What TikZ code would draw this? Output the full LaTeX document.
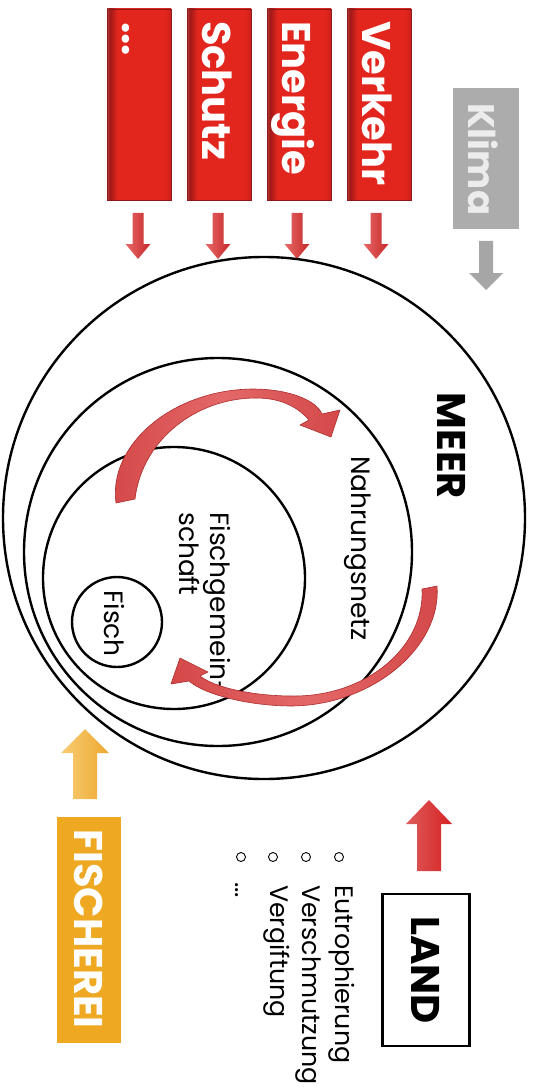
\documentclass[tikz,border=0pt]{standalone}
\usepackage{fontspec}
\setmainfont{Poppins}
\definecolor{rbEdgeL}{RGB}{178,60,56}
\definecolor{rbDark}{RGB}{160,24,24}
\definecolor{rbMid}{RGB}{226,38,30}
\definecolor{rbRight}{RGB}{206,32,28}
\definecolor{rbEdge}{RGB}{140,25,25}
\definecolor{arLight}{RGB}{232,104,104}
\definecolor{arDark}{RGB}{198,40,40}
\definecolor{klimaBox}{RGB}{172,172,172}
\definecolor{klimaText}{RGB}{236,236,236}
\definecolor{klimaArrow}{RGB}{166,166,166}
\definecolor{curveLight}{RGB}{228,104,104}
\definecolor{curveFill}{RGB}{212,72,72}
\definecolor{curveEdge}{RGB}{170,45,45}
\definecolor{fishOrange}{RGB}{238,168,34}
\definecolor{fishArLight}{RGB}{247,205,115}
\definecolor{fishArDark}{RGB}{238,168,48}
\definecolor{landLight}{RGB}{222,92,92}
\definecolor{landDark}{RGB}{214,34,34}
% glossy red bar: narrow dark band on the left, bright red body
\pgfdeclarehorizontalshading{redbar}{100bp}{color(0bp)=(rbEdgeL); color(25bp)=(rbEdgeL); color(27.5bp)=(rbDark); color(33bp)=(rbMid); color(70bp)=(rbMid); color(75bp)=(rbRight); color(100bp)=(rbRight)}
% vertical block arrow: style, x, tail y, head base y, tip y, half shaft, half head
\newcommand\blockarrow[7]{\path[#1] ({#2-#6},#3) -- ({#2+#6},#3) -- ({#2+#6},#4) -- ({#2+#7},#4) -- (#2,#5) -- ({#2-#7},#4) -- ({#2-#6},#4) -- cycle;}
\begin{document}
\begin{tikzpicture}[x=1pt,y=-1pt,
  redbox/.style={shading=redbar, draw=rbEdge, line width=0.7pt, minimum width=64pt, minimum height=191pt, inner sep=0pt, outer sep=0pt},
  boxtxt/.style={font=\fontsize{40}{40}\selectfont\bfseries, text=white, rotate=-90, inner sep=0pt},
  reg/.style={font=\fontsize{26.5}{31}\selectfont, text=black, rotate=-90, inner sep=0pt},
  listtxt/.style={reg, font=\fontsize{25.3}{30}\selectfont},
  ring/.style={draw=black, line width=2.4pt},
  smallarrow/.style={left color=arLight, right color=arDark},
  curvearrow/.style={left color=curveFill, right color=curveFill, middle color=curveLight, draw=curveEdge, line width=0.6pt, line join=round},
  bulletring/.style={circle, draw=black, line width=0.9pt, minimum size=9pt, inner sep=0pt}]
\useasboundingbox (0,0) rectangle (533,1091);

% pressures from above
\node[redbox] (dots)    at (139,104.5) {};
\node[redbox] (schutz)  at (219,104.5) {};
\node[redbox] (energie) at (299,104.5) {};
\node[redbox] (verkehr) at (379,104.5) {};
\node[boxtxt, anchor=base west] (dotsT)    at (122,22) {...};
\node[boxtxt, anchor=base west] (schutzT)  at (202,21) {Schutz};
\node[boxtxt, anchor=base west] (energieT) at (282,21) {Energie};
\node[boxtxt, anchor=base west] (verkehrT) at (362,21) {Verkehr};
\blockarrow{smallarrow}{138}{213}{244}{259}{5.5}{12.5}
\blockarrow{smallarrow}{218}{213}{244}{259}{5.5}{12.5}
\blockarrow{smallarrow}{297}{213}{244}{259}{5.5}{12.5}
\blockarrow{smallarrow}{376}{213}{244}{259}{5.5}{12.5}

% climate
\node[fill=klimaBox, minimum width=66pt, minimum height=141pt, inner sep=0pt] (klima) at (486,158.5) {};
\node[boxtxt, font=\fontsize{37}{37}\selectfont\bfseries, text=klimaText, anchor=base west] (klimaT) at (468,103) {Klima};
\blockarrow{fill=klimaArrow}{486}{241}{273}{290}{7}{17}

% nested systems
\node[ring, circle, minimum size=522pt, inner sep=0pt] (meer) at (264,518) {};
\node[ring, circle, minimum size=388pt, inner sep=0pt] (netz) at (218,552) {};
\node[ring, circle, minimum size=262pt, inner sep=0pt] (gemein) at (174,578) {};
\node[ring, circle, minimum size=90pt, inner sep=0pt] (fisch) at (117,622) {};

\node[boxtxt, text=black, anchor=center] (meerT) at (452,446) {MEER};
\node[reg, anchor=base west] (netzT) at (351,456) {Nahrungsnetz};
\node[reg, anchor=base west] (gemeinT1) at (210,512) {Fischgemein-};
\node[reg, anchor=base west] (gemeinT2) at (179,512) {schaft};
\node[reg, anchor=base west] (fischT) at (104,590) {Fisch};

% feedback arrows
\path[curvearrow] (116,503) .. controls (108,445) and (172,390) .. (252,389)
  .. controls (289,389) and (316,400) .. (322,414) -- (340,410) -- (331,437) -- (300,425) -- (309,420)
  .. controls (296,405) and (278,398) .. (256,398)
  .. controls (196,398) and (142,440) .. (135,499) -- cycle;
\path[curvearrow] (437,586) .. controls (442,645) and (375,705) .. (292,706)
  .. controls (250,706) and (205,695) .. (189,681) -- (171,684) -- (180,658) -- (208,672) -- (200,676)
  .. controls (215,688) and (255,696) .. (292,696)
  .. controls (365,697) and (425,648) .. (422,589) -- cycle;

% land
\blockarrow{left color=landLight, right color=landDark}{429}{871}{824}{800}{12}{23}
\node[draw=black, line width=2.6pt, minimum width=152pt, minimum height=87pt, rotate=-90, inner sep=0pt,
  font=\fontsize{40}{40}\selectfont\bfseries] (land) at (426,970) {LAND};
\node[bulletring] (b1) at (339,857) {};
\node[bulletring] (b2) at (306,857) {};
\node[bulletring] (b3) at (273,857) {};
\node[bulletring] (b4) at (241,857) {};
\node[listtxt, anchor=base west] (l1) at (335,885) {Eutrophierung};
\node[listtxt, anchor=base west] (l2) at (302,885) {Verschmutzung};
\node[listtxt, anchor=base west] (l3) at (270,885) {Vergiftung};
\node[listtxt, anchor=base west] (l4) at (235,882) {...};

% fishery
\blockarrow{left color=fishArLight, right color=fishArDark}{85}{799}{753}{729}{12}{24}
\node[fill=fishOrange, minimum width=64pt, minimum height=226pt, inner sep=0pt] (fischerei) at (89,930) {};
\node[boxtxt, anchor=center] (fischereiT) at (89,929) {FISCHEREI};
\end{tikzpicture}
\end{document}
